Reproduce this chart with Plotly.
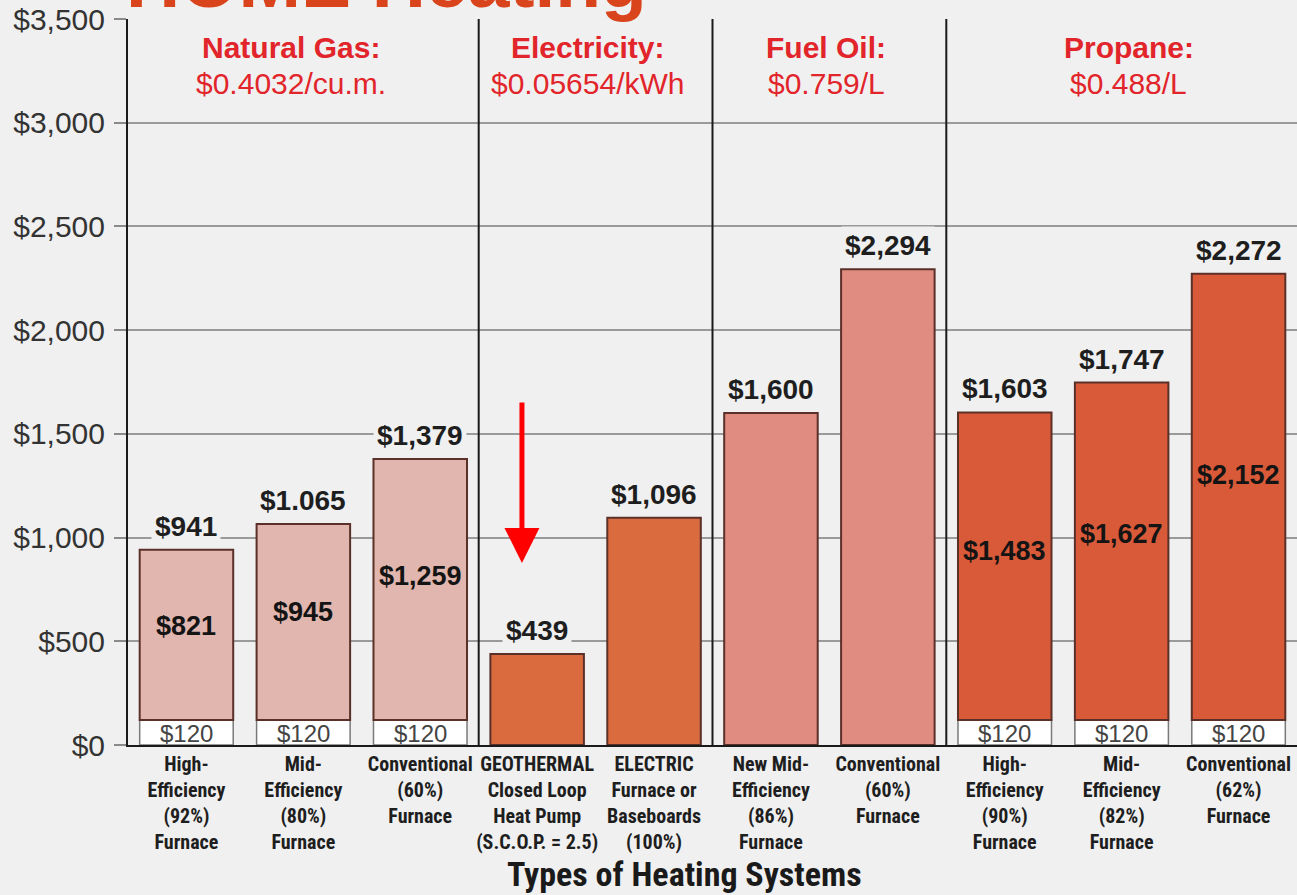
import plotly.graph_objects as go

# ---------------- data ----------------
categories = [
    "High-<br>Efficiency<br>(92%)<br>Furnace",
    "Mid-<br>Efficiency<br>(80%)<br>Furnace",
    "Conventional<br>(60%)<br>Furnace",
    "GEOTHERMAL<br>Closed Loop<br>Heat Pump<br>(S.C.O.P. = 2.5)",
    "ELECTRIC<br>Furnace or<br>Baseboards<br>(100%)",
    "New Mid-<br>Efficiency<br>(86%)<br>Furnace",
    "Conventional<br>(60%)<br>Furnace",
    "High-<br>Efficiency<br>(90%)<br>Furnace",
    "Mid-<br>Efficiency<br>(82%)<br>Furnace",
    "Conventional<br>(62%)<br>Furnace",
]
group_names = ["Natural Gas:", "Electricity:", "Fuel Oil:", "Propane:"]
group_prices = ["$0.4032/cu.m.", "$0.05654/kWh", "$0.759/L", "$0.488/L"]
group_sizes = [3, 2, 2, 3]
group_colors = ["#e0b6ae", "#d96b3e", "#e08c80", "#d95a38"]

totals = [941, 1065, 1379, 439, 1096, 1600, 2294, 1603, 1747, 2272]
total_labels = ["$941", "$1.065", "$1,379", "$439", "$1,096",
                "$1,600", "$2,294", "$1,603", "$1,747", "$2,272"]
fixed_charge = [120, 120, 120, 0, 0, 0, 0, 120, 120, 120]

y_ticks = [0, 500, 1000, 1500, 2000, 2500, 3000, 3500]
y_tick_labels = ["$0", "$500", "$1,000", "$1,500", "$2,000", "$2,500", "$3,000", "$3,500"]

title_text = "HOME Heating"
x_title = "Types of Heating Systems"
highlight_index = 3  # geothermal

# ---------------- derived ----------------
n = len(categories)
xs = list(range(n))
variable = [t - f for t, f in zip(totals, fixed_charge)]
bar_colors = []
for g, size in enumerate(group_sizes):
    bar_colors += [group_colors[g]] * size

BG = "#f0f0f0"
SANS = "Liberation Sans, Arial, Helvetica, sans-serif"
NARROW = "Liberation Sans Narrow, Arial Narrow, Roboto Condensed, DejaVu Sans Condensed, sans-serif"

fig = go.Figure()

# fixed charge ($120) segment
fig.add_trace(go.Bar(
    x=xs,
    y=[f if f > 0 else None for f in fixed_charge],
    width=0.8,
    marker=dict(color="#ffffff", line=dict(color="#7a7a7a", width=1.5)),
    hoverinfo="skip",
    showlegend=False,
))
# variable (fuel) segment
fig.add_trace(go.Bar(
    x=xs,
    y=variable,
    base=fixed_charge,
    width=0.8,
    marker=dict(color=bar_colors, line=dict(color="#5a3028", width=2)),
    hoverinfo="skip",
    showlegend=False,
))

annotations = []
for i in xs:
    # total label above the bar
    annotations.append(dict(
        x=i, y=totals[i], xref="x", yref="y", yanchor="bottom", yshift=4,
        text="<b>%s</b>" % total_labels[i], showarrow=False,
        font=dict(family=SANS, size=28, color="#1e1e1e"),
        bgcolor=BG, borderpad=3,
    ))
    if fixed_charge[i] > 0:
        # fixed charge label
        annotations.append(dict(
            x=i, y=fixed_charge[i] / 2, xref="x", yref="y", yshift=-1,
            text="$%d" % fixed_charge[i], showarrow=False,
            font=dict(family=SANS, size=24, color="#444444"),
        ))
        # fuel cost label inside bar
        annotations.append(dict(
            x=i, y=fixed_charge[i] + variable[i] * 0.55, xref="x", yref="y",
            text="<b>${:,}</b>".format(variable[i]), showarrow=False,
            font=dict(family=SANS, size=27, color="#141414"),
        ))

# group headers and separators
header_shift = [-12, -8, -3, 7]
start = 0
shapes = []
for g, size in enumerate(group_sizes):
    center = start + (size - 1) / 2
    annotations.append(dict(
        x=center, y=0.9601, xref="x", yref="paper", yanchor="middle",
        xshift=header_shift[g],
        text="<b>%s</b>" % group_names[g],
        showarrow=False, font=dict(family=SANS, size=30, color="#e2242b"),
    ))
    annotations.append(dict(
        x=center, y=0.9118, xref="x", yref="paper", yanchor="middle",
        xshift=header_shift[g],
        text=group_prices[g],
        showarrow=False, font=dict(family=SANS, size=30, color="#e2242b"),
    ))
    start += size
    if start < n:
        shapes.append(dict(
            type="line", xref="x", yref="y",
            x0=start - 0.5, x1=start - 0.5, y0=-25, y1=y_ticks[-1],
            line=dict(color="#1a1a1a", width=2),
        ))

# x axis title
annotations.append(dict(
    x=0.476, y=-0.1777, xref="paper", yref="paper", yanchor="middle",
    text="<b>%s</b>" % x_title, showarrow=False,
    font=dict(family=NARROW, size=34, color="#1a1a1a"),
))

# cropped page title (only its lower edge is visible, as in the source)
annotations.append(dict(
    x=-0.003, y=0.9917, xref="paper", yref="paper", xanchor="left", yanchor="bottom",
    text="<b>%s</b>" % title_text, showarrow=False,
    font=dict(family=SANS, size=75, color="#d9441c"),
))

# red arrow pointing to the geothermal bar
arrow_tip = totals[highlight_index] * 2
arrow_tail = arrow_tip + 780
annotations.append(dict(
    x=highlight_index - 0.13, y=arrow_tip, ax=highlight_index - 0.13, ay=arrow_tail,
    xref="x", yref="y", axref="x", ayref="y", text="",
    showarrow=True, arrowhead=2, arrowsize=1.4, arrowwidth=5, arrowcolor="#ff0000",
))

fig.update_layout(
    width=1297, height=895, autosize=False,
    margin=dict(l=128, r=0, t=19, b=150),
    paper_bgcolor=BG, plot_bgcolor=BG,
    barmode="overlay",
    annotations=annotations,
    shapes=shapes,
    showlegend=False,
)
fig.update_xaxes(
    range=[-0.5, n - 0.5],
    tickmode="array", tickvals=xs, ticktext=categories,
    tickfont=dict(family=NARROW, size=20, color="#1e1e1e", weight="bold"),
    showline=True, linecolor="#1a1a1a", linewidth=2,
    showgrid=False, zeroline=False, ticks="",
)
fig.update_yaxes(
    range=[0, y_ticks[-1]],
    tickmode="array", tickvals=y_ticks, ticktext=y_tick_labels,
    tickfont=dict(family=SANS, size=30, color="#333333"),
    showline=True, linecolor="#1a1a1a", linewidth=2,
    ticks="outside", ticklen=12, tickcolor="#8a8a8a", tickwidth=1.5,
    ticklabelstandoff=3,
    showgrid=True, gridcolor="#9a9a9a", gridwidth=1.5,
    zeroline=False,
)

fig.write_html(
    "out.html",
    config={"displayModeBar": False},
    post_script="document.body.style.margin='0';document.body.style.background='%s';" % BG,
)
